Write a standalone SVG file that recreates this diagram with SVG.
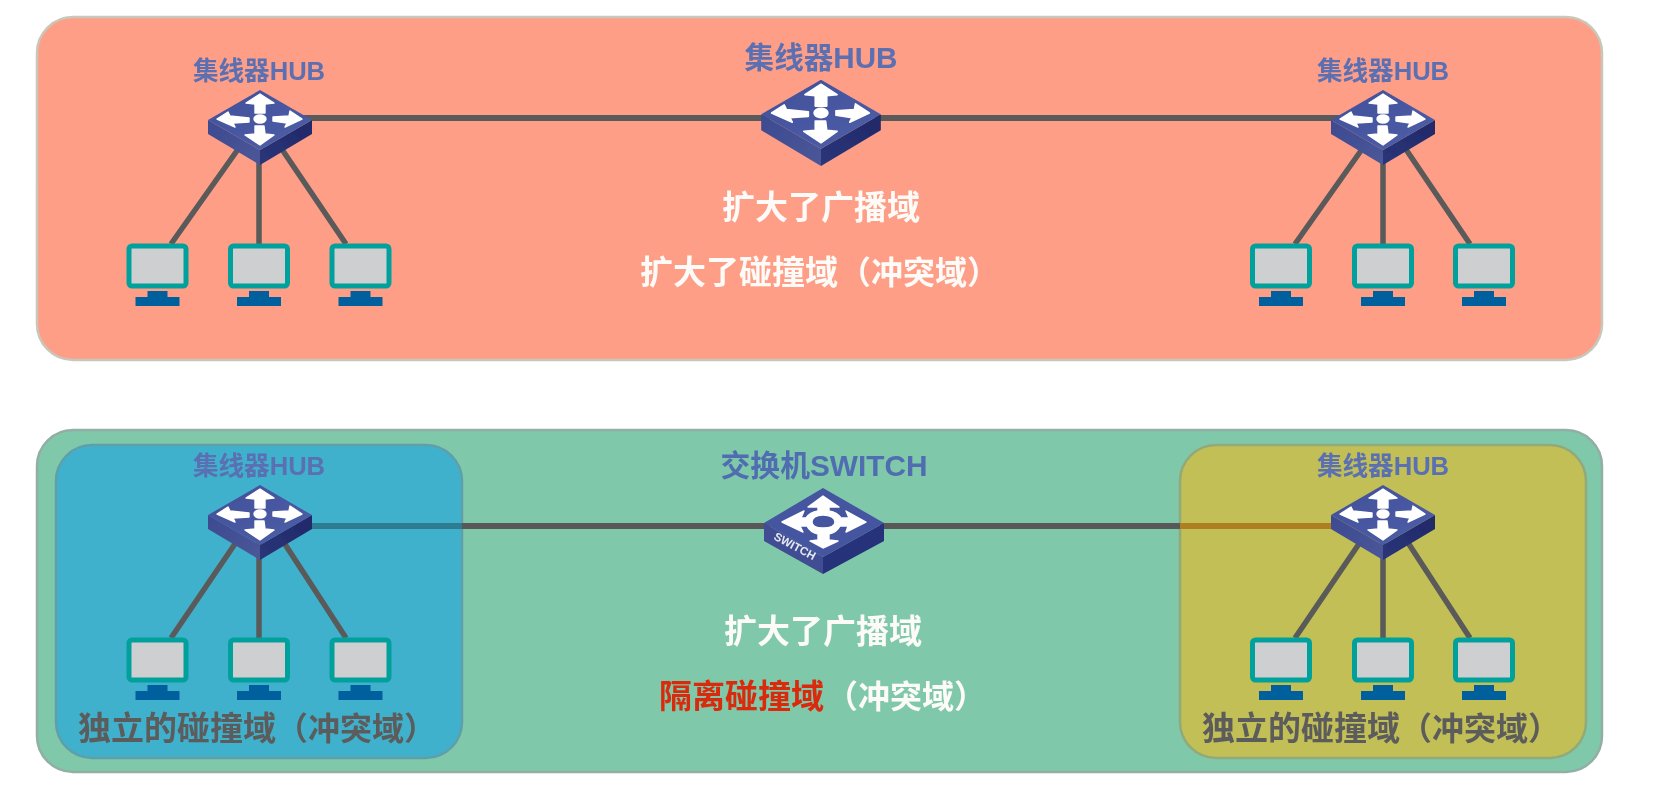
<svg xmlns="http://www.w3.org/2000/svg" width="1671" height="789" viewBox="0 0 1671 789">
<style>
text{font-family:"Liberation Sans","Noto Sans CJK SC",sans-serif;font-weight:700}
.lbl{fill:#5A6FB2;text-anchor:middle}
.w{fill:#fdfbf8;font-size:33px}
.d{fill:#5c5c5c;font-size:33px}
.p{font-size:32px}
.c{fill:none;stroke:#5a5a5a;stroke-width:5.5}
.h{stroke-width:6}
.ar{fill:#fff;stroke:#fff;stroke-width:1.4;stroke-linejoin:round}
</style>
<defs>
<filter id="soft" filterUnits="userSpaceOnUse" x="0" y="0" width="1671" height="789"><feGaussianBlur stdDeviation="0.55"/></filter>
<linearGradient id="gt" x1="0" y1="0" x2="1" y2="1"><stop offset="0" stop-color="#414f99"/><stop offset="1" stop-color="#4e5fa8"/></linearGradient>
<linearGradient id="gl" x1="0" y1="0" x2="1" y2="1"><stop offset="0" stop-color="#3d4a8f"/><stop offset="1" stop-color="#4a5799"/></linearGradient>
<linearGradient id="gr" x1="0" y1="1" x2="1" y2="0"><stop offset="0" stop-color="#2b3679"/><stop offset="1" stop-color="#1f2868"/></linearGradient>
<g id="hub">
<path d="M-52 1V15L0 46V31Z" fill="url(#gl)"/>
<path d="M52 1V15L0 46V31Z" fill="url(#gr)"/>
<path d="M0 -29L52 1L0 31L-52 1Z" fill="url(#gt)"/>
<path class="ar" d="M0 -25L14 -16L5 -15L5 -6L-5 -6L-5 -15L-14 -16Z"/>
<path class="ar" d="M-43 0L-32 -7L-30 -3L-11 -1L-11 3L-27 4L-25 8Z"/>
<path class="ar" d="M42 0L30 -8L29 -3L13 -2L13 2L27 4L25 8Z"/>
<path class="ar" d="M0 26L-15 16L-5 15L-5 7L4 7L5 15L14 16Z"/>
<ellipse class="ar" cx="0" cy="0" rx="6" ry="4"/>
</g>
<g id="pc">
<rect x="-28.5" y="-20" width="57" height="40" rx="3" fill="#cdcfd0" stroke="#03a09c" stroke-width="5"/>
<path d="M-10 25H10V31H22V40H-22V31H-10Z" fill="#005f9d"/>
</g>
</defs>
<g id="diagram" filter="url(#soft)">
<g id="panel-top"><rect x="37" y="17" width="1565" height="343" rx="36" fill="#ff9e87" stroke="#c9c6ba" stroke-width="2.5"/></g>
<g id="panel-bottom"><rect x="37" y="430" width="1565" height="342" rx="36" fill="#7fc8aa" stroke="#93aea4" stroke-width="2.5"/></g>
<g id="panel-blue"><rect x="56" y="445" width="406" height="313" rx="36" fill="#41b1cc" stroke="#5f9fa9" stroke-width="2.5"/></g>
<g id="panel-yellow"><rect x="1180" y="445" width="406" height="313" rx="36" fill="#c1bf55" stroke="#92a97a" stroke-width="2.5"/></g>

<g id="connectors">
<path class="c h" d="M300 118H770M875 118H1340"/>
<path class="c" d="M241 145L171 244M259 150V244M279 145L346 244"/>
<path class="c" d="M1365 145L1295 244M1383 150V244M1403 145L1470 244"/>
<path class="c h" d="M460 526H770M880 526H1180" style="stroke:#595959"/>
<path class="c h" d="M300 526H462" style="stroke:#2f7b92"/>
<path class="c h" d="M1180 526H1340" style="stroke:#ae7f22"/>
<path class="c" d="M241 535L171 638M259 540V638M279 535L346 638"/>
<path class="c" d="M1365 535L1295 638M1383 540V638M1403 535L1470 638"/>
</g>

<g id="hub-top-left"><use href="#hub" transform="translate(260 119)"/><text class="lbl" x="259" y="80" font-size="25.6">集线器HUB</text></g>
<g id="hub-top-mid"><use href="#hub" transform="translate(821 113) scale(1.15)"/><text class="lbl" x="821" y="68" font-size="29.6">集线器HUB</text></g>
<g id="hub-top-right"><use href="#hub" transform="translate(1383 119)"/><text class="lbl" x="1383" y="80" font-size="25.6">集线器HUB</text></g>
<g id="hub-bottom-left"><use href="#hub" transform="translate(260 514)"/><text class="lbl" x="259" y="475" font-size="25.6">集线器HUB</text></g>
<g id="hub-bottom-right"><use href="#hub" transform="translate(1383 514)"/><text class="lbl" x="1383" y="475" font-size="25.6">集线器HUB</text></g>

<g id="switch">
<path d="M764 523V541L823 574V557Z" fill="#3f4d92"/>
<path d="M884 523V541L823 574V557Z" fill="#27317a"/>
<path d="M823 488L884 523L823 557L764 523Z" fill="#4454a0"/>
<path class="ar" fill-rule="evenodd" d="M823 496L839 507H829L829 511C835 512 839 515 841 518L849 518L846 511L866 522L846 532L848 526L840 526C838 530 834 533 829 534V540L838 541L823 548L810 541L818 540V534C813 533 809 530 807 526L800 526L803 532L782 522L804 511L801 518L806 518C808 515 812 512 818 511V507H808ZM823 515C816 515 812 518 812 522C812 526 817 528 823 528C830 528 835 526 835 522C835 518 830 515 823 515Z"/>
<text transform="translate(773 539) rotate(28)" font-size="11.5" fill="#e6e8f2">SWITCH</text>
<text class="lbl" x="824" y="476" font-size="29.8" style="fill:#4f6db0">交换机SWITCH</text>
</g>

<g id="pcs">
<use href="#pc" x="157.5" y="266"/><use href="#pc" x="259" y="266"/><use href="#pc" x="360.5" y="266"/>
<use href="#pc" x="1281" y="266"/><use href="#pc" x="1383" y="266"/><use href="#pc" x="1484" y="266"/>
<use href="#pc" x="157.5" y="660"/><use href="#pc" x="259" y="660"/><use href="#pc" x="360.5" y="660"/>
<use href="#pc" x="1281" y="660"/><use href="#pc" x="1383" y="660"/><use href="#pc" x="1484" y="660"/>
</g>

<g id="labels">
<text class="w" x="821" y="219" text-anchor="middle">扩大了广播域</text>
<text class="w" x="640" y="284">扩大了碰撞域<tspan class="p" x="839">（冲突域）</tspan></text>
<text class="w" x="823" y="643" text-anchor="middle">扩大了广播域</text>
<text class="w" x="659" y="708"><tspan fill="#d92b0c">隔离碰撞域</tspan><tspan class="p" x="826">（冲突域）</tspan></text>
<text class="d" x="78" y="740">独立的碰撞域<tspan class="p" x="276">（冲突域）</tspan></text>
<text class="d" x="1202" y="740">独立的碰撞域<tspan class="p" x="1400">（冲突域）</tspan></text>
</g>
</g>
</svg>
